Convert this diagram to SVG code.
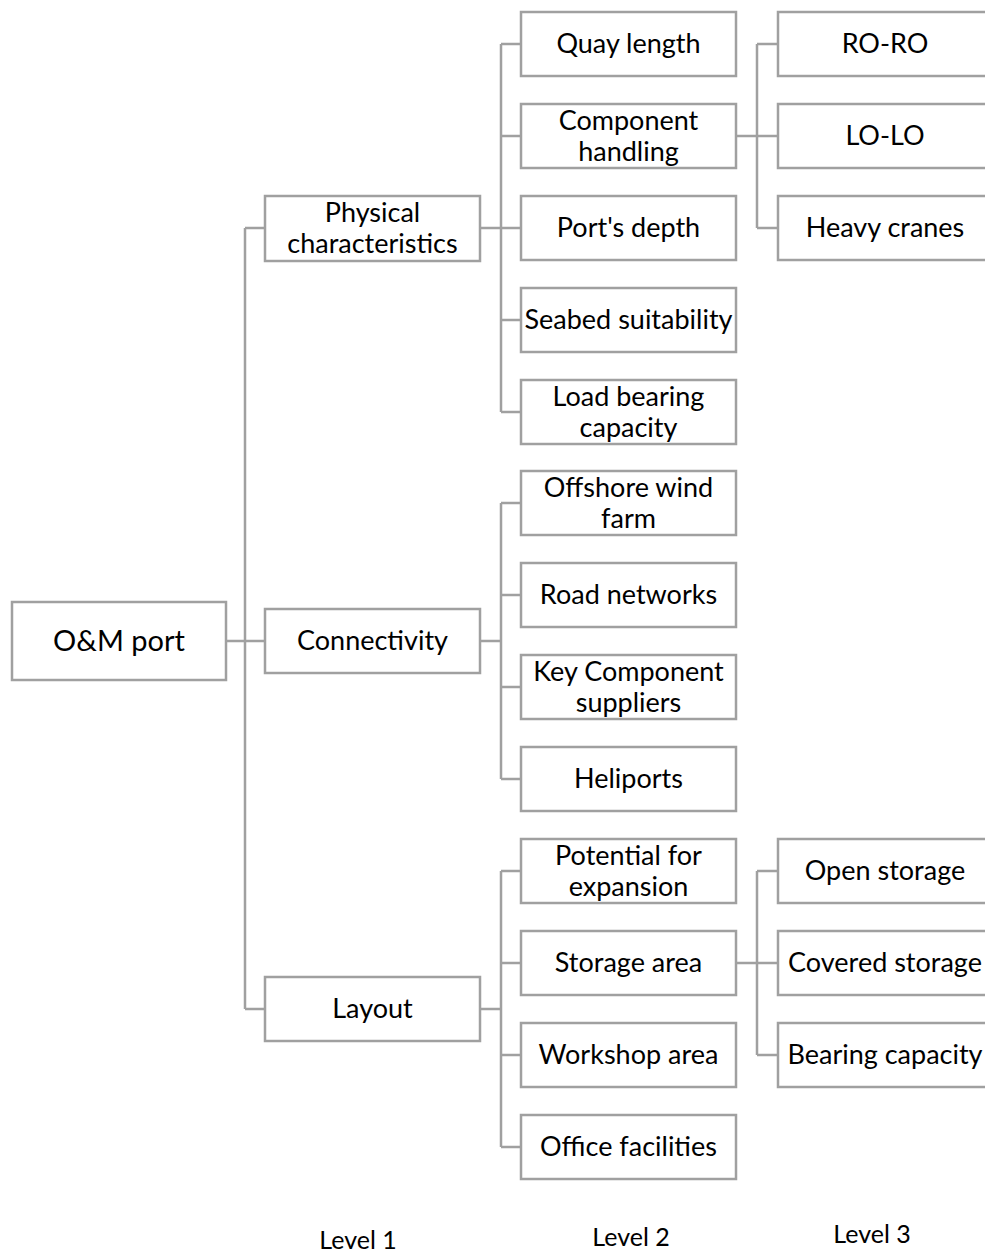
<svg xmlns="http://www.w3.org/2000/svg" width="985" height="1253" viewBox="0 0 985 1253">
<style>
.box{fill:#fff;stroke:#a0a0a0;stroke-width:2.5}
.ln{fill:none;stroke:#a0a0a0;stroke-width:2.5}
text{font-family:Lato,"Open Sans",sans-serif;font-size:27px;fill:#000;text-anchor:middle}
.root{font-size:29px}
.lvl{font-size:25px}
</style>
<rect width="985" height="1253" fill="#fff"/>
<g id="connectors">
<path class="ln" d="M226,641H265M245,228V1009M245,228H265M245,1009H265"/>
<path class="ln" d="M480,228H521M501,44V412M501,44H521M501,136H521M501,320H521M501,412H521"/>
<path class="ln" d="M480,641H501M501,503V779M501,503H521M501,595H521M501,687H521M501,779H521"/>
<path class="ln" d="M480,1009H501M501,871V1147M501,871H521M501,963H521M501,1055H521M501,1147H521"/>
<path class="ln" d="M736,136H778M757,44V228M757,44H778M757,228H778"/>
<path class="ln" d="M736,963H778M757,871V1055M757,871H778M757,1055H778"/>
</g>
<g id="n-root"><rect class="box" x="12" y="602" width="214" height="78"/><text class="root" x="119" y="651">O&amp;M port</text></g>
<g id="n-physical"><rect class="box" x="265" y="196" width="215" height="65"/><text x="372.5" y="222">Physical</text><text x="372.5" y="253">characteristics</text></g>
<g id="n-connectivity"><rect class="box" x="265" y="609" width="215" height="64"/><text x="372.5" y="650">Connectivity</text></g>
<g id="n-layout"><rect class="box" x="265" y="977" width="215" height="64"/><text x="372.5" y="1018">Layout</text></g>
<g id="n-quay"><rect class="box" x="521" y="12" width="215" height="64"/><text x="628.5" y="53">Quay length</text></g>
<g id="n-component"><rect class="box" x="521" y="104" width="215" height="64"/><text x="628.5" y="130">Component</text><text x="628.5" y="161">handling</text></g>
<g id="n-depth"><rect class="box" x="521" y="196" width="215" height="64"/><text x="628.5" y="237">Port's depth</text></g>
<g id="n-seabed"><rect class="box" x="521" y="288" width="215" height="64"/><text x="628.5" y="329">Seabed suitability</text></g>
<g id="n-load"><rect class="box" x="521" y="380" width="215" height="64"/><text x="628.5" y="406">Load bearing</text><text x="628.5" y="437">capacity</text></g>
<g id="n-offshore"><rect class="box" x="521" y="471" width="215" height="64"/><text x="628.5" y="497">Offshore wind</text><text x="628.5" y="528">farm</text></g>
<g id="n-road"><rect class="box" x="521" y="563" width="215" height="64"/><text x="628.5" y="604">Road networks</text></g>
<g id="n-key"><rect class="box" x="521" y="655" width="215" height="64"/><text x="628.5" y="681">Key Component</text><text x="628.5" y="712">suppliers</text></g>
<g id="n-heliports"><rect class="box" x="521" y="747" width="215" height="64"/><text x="628.5" y="788">Heliports</text></g>
<g id="n-potential"><rect class="box" x="521" y="839" width="215" height="64"/><text x="628.5" y="865">Potential for</text><text x="628.5" y="896">expansion</text></g>
<g id="n-storage"><rect class="box" x="521" y="931" width="215" height="64"/><text x="628.5" y="972">Storage area</text></g>
<g id="n-workshop"><rect class="box" x="521" y="1023" width="215" height="64"/><text x="628.5" y="1064">Workshop area</text></g>
<g id="n-office"><rect class="box" x="521" y="1115" width="215" height="64"/><text x="628.5" y="1156">Office facilities</text></g>
<g id="n-roro"><rect class="box" x="778" y="12" width="215" height="64"/><text x="885" y="53">RO-RO</text></g>
<g id="n-lolo"><rect class="box" x="778" y="104" width="215" height="64"/><text x="885" y="145">LO-LO</text></g>
<g id="n-cranes"><rect class="box" x="778" y="196" width="215" height="64"/><text x="885" y="237">Heavy cranes</text></g>
<g id="n-open"><rect class="box" x="778" y="839" width="215" height="64"/><text x="885" y="880">Open storage</text></g>
<g id="n-covered"><rect class="box" x="778" y="931" width="215" height="64"/><text x="885" y="972">Covered storage</text></g>
<g id="n-bearing"><rect class="box" x="778" y="1023" width="215" height="64"/><text x="885" y="1064">Bearing capacity</text></g>
<g id="levels">
<text class="lvl" x="358" y="1249">Level 1</text>
<text class="lvl" x="631" y="1246">Level 2</text>
<text class="lvl" x="872" y="1243">Level 3</text>
</g>
</svg>
